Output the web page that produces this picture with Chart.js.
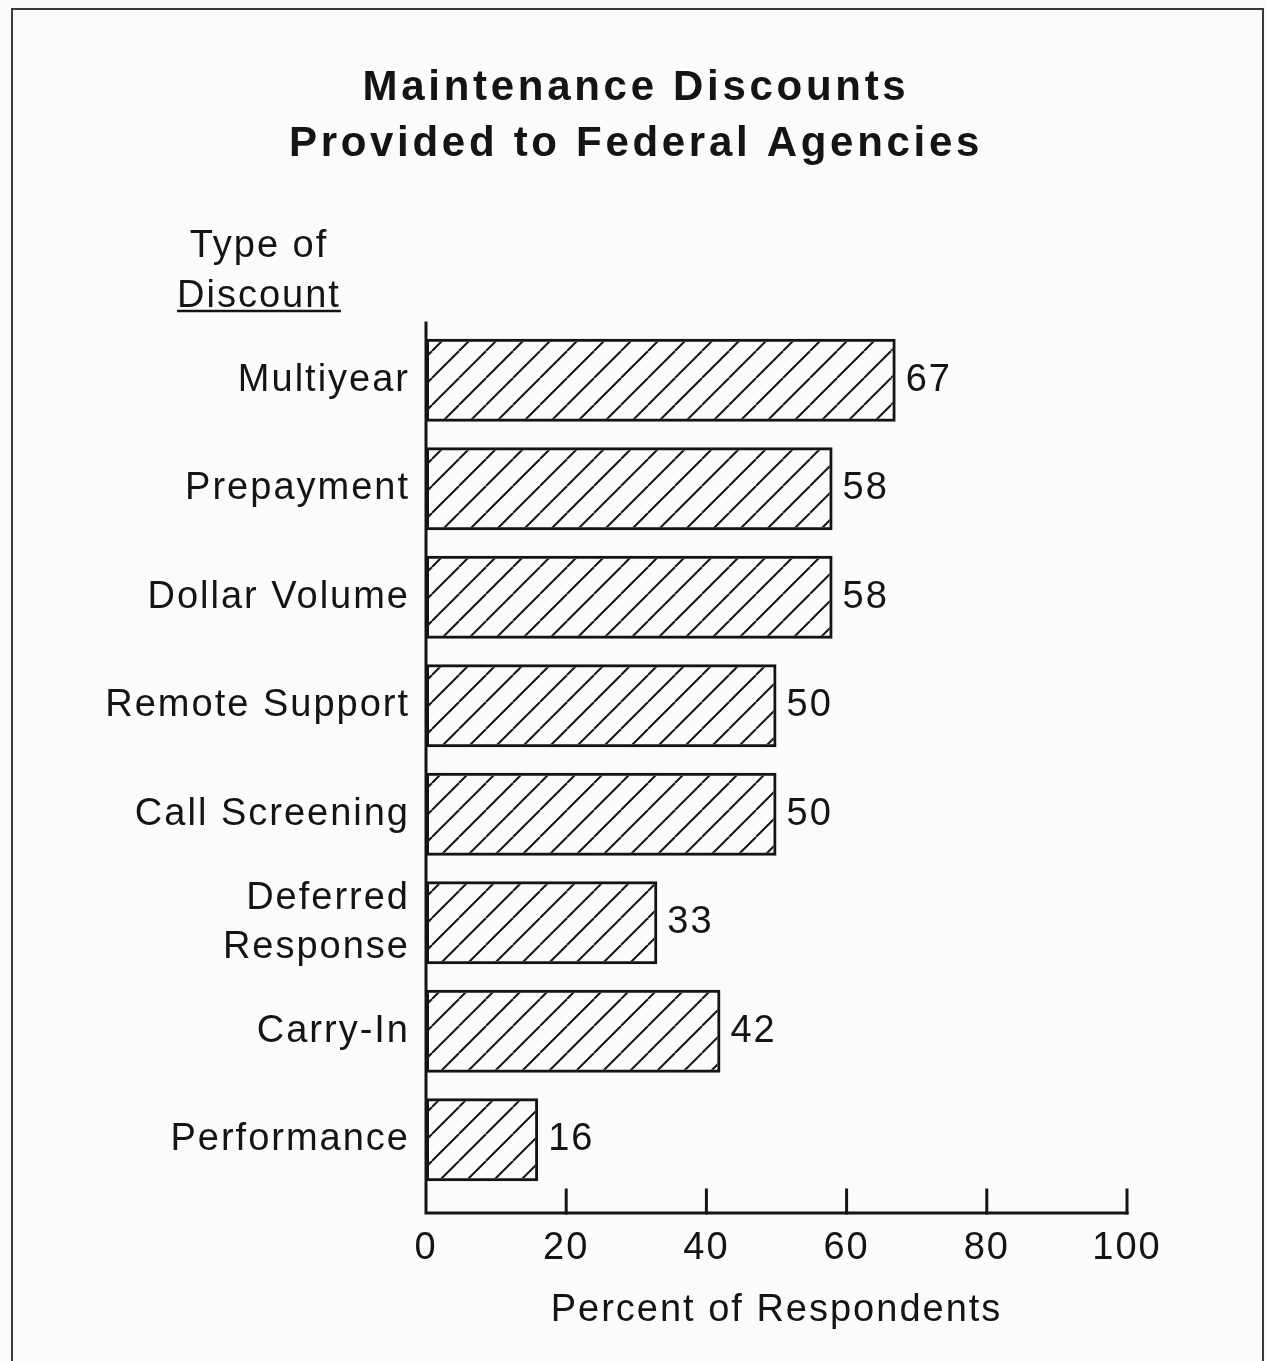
<!DOCTYPE html>
<html>
<head>
<meta charset="utf-8">
<title>Maintenance Discounts Provided to Federal Agencies</title>
<script src="https://cdn.jsdelivr.net/npm/chart.js@4.4.1/dist/chart.umd.min.js"></script>
<style>
	html, body { margin: 0; padding: 0; background: #fbfbfb; }
	canvas { display: block; }
</style>
</head>
<body>
<canvas id="discountChart" width="1267" height="1361"></canvas>
<script>
// chart data
const titleLines = ["Maintenance Discounts", "Provided to Federal Agencies"];
const headerLines = ["Type of", "Discount"];
const categories = [
	"Multiyear",
	"Prepayment",
	"Dollar Volume",
	"Remote Support",
	"Call Screening",
	["Deferred", "Response"],
	"Carry-In",
	"Performance",
];
const percentValues = [67, 58, 58, 50, 50, 33, 42, 16];
const xTickValues = [0, 20, 40, 60, 80, 100];
const xAxisTitle = "Percent of Respondents";

const FONT = "'Liberation Sans', Arial, Helvetica, sans-serif";
const INK = "#141414";

// diagonal hatch used to fill the bars
const makeHatch = (ctx) => {
	const size = 27;
	const tile = document.createElement("canvas");
	tile.width = size;
	tile.height = size;
	const t = tile.getContext("2d");
	t.strokeStyle = INK;
	t.lineWidth = 2;
	for (let k = -1; k <= 1; k++) {
		t.beginPath();
		t.moveTo(k * size, size);
		t.lineTo(k * size + size, 0);
		t.stroke();
	}
	return ctx.createPattern(tile, "repeat");
};

const pageDecor = {
	id: "pageDecor",
	beforeDraw(chart) {
		const { ctx, width, height } = chart;
		ctx.save();
		ctx.fillStyle = "#fbfbfb";
		ctx.fillRect(0, 0, width, height);
		// frame around the figure (open at the bottom)
		ctx.strokeStyle = "#3a3a3a";
		ctx.lineWidth = 2;
		ctx.beginPath();
		ctx.moveTo(12, height + 5);
		ctx.lineTo(12, 9);
		ctx.lineTo(1263, 9);
		ctx.lineTo(1263, height + 5);
		ctx.stroke();

		// main title
		ctx.fillStyle = INK;
		ctx.font = `bold 42px ${FONT}`;
		ctx.letterSpacing = "3.7px";
		ctx.textAlign = "center";
		ctx.textBaseline = "alphabetic";
		ctx.fillText(titleLines[0], 636, 100);
		ctx.fillText(titleLines[1], 636, 156);

		// column header above the category labels
		ctx.font = `38px ${FONT}`;
		ctx.letterSpacing = "2px";
		ctx.fillText(headerLines[0], 259, 257);
		ctx.fillText(headerLines[1], 259, 307);
		const w = ctx.measureText(headerLines[1]).width;
		ctx.lineWidth = 2.5;
		ctx.strokeStyle = INK;
		ctx.beginPath();
		ctx.moveTo(259 - w / 2, 311);
		ctx.lineTo(259 + w / 2, 311);
		ctx.stroke();
		ctx.restore();
		ctx.letterSpacing = "2px";
	},
	afterDatasetsDraw(chart) {
		const { ctx, chartArea, scales } = chart;
		const x = scales.x;
		const x0 = x.getPixelForValue(xTickValues[0]);
		const xEnd = x.getPixelForValue(xTickValues[xTickValues.length - 1]);
		const baseY = chartArea.bottom + 19;

		ctx.save();
		ctx.strokeStyle = INK;
		ctx.lineWidth = 3;
		ctx.lineCap = "square";
		ctx.beginPath();
		ctx.moveTo(x0, chartArea.top - 3);
		ctx.lineTo(x0, baseY);
		ctx.lineTo(xEnd, baseY);
		ctx.stroke();
		xTickValues.slice(1).forEach((v) => {
			const px = x.getPixelForValue(v);
			ctx.beginPath();
			ctx.moveTo(px, baseY);
			ctx.lineTo(px, baseY - 23);
			ctx.stroke();
		});

		// value labels at the end of each bar
		ctx.fillStyle = INK;
		ctx.font = `38px ${FONT}`;
		ctx.letterSpacing = "2px";
		ctx.textAlign = "left";
		ctx.textBaseline = "middle";
		const meta = chart.getDatasetMeta(0);
		meta.data.forEach((bar, i) => {
			ctx.fillText(String(percentValues[i]), bar.x + 10, bar.y);
		});
		ctx.restore();
	},
};

const canvas = document.getElementById("discountChart");
const ctx = canvas.getContext("2d");

new Chart(canvas, {
	type: "bar",
	data: {
		labels: categories,
		datasets: [
			{
				label: "Percent of Respondents",
				data: percentValues,
				backgroundColor: makeHatch(ctx),
				borderColor: INK,
				borderWidth: 3,
				borderSkipped: false,
				barPercentage: 0.765,
				categoryPercentage: 1,
			},
		],
	},
	options: {
		indexAxis: "y",
		responsive: false,
		animation: false,
		devicePixelRatio: 1,
		layout: {
			padding: { top: 326, right: 140, bottom: 0, left: 0 },
		},
		plugins: {
			legend: { display: false },
			title: { display: false },
			tooltip: { enabled: false },
		},
		scales: {
			x: {
				min: 0,
				max: 100,
				afterBuildTicks: (scale) => {
					scale.ticks = xTickValues.map((v) => ({ value: v }));
				},
				afterFit: (scale) => {
					scale.height = 167;
				},
				grid: { display: false, drawTicks: false },
				border: { display: false },
				ticks: {
					color: INK,
					padding: 32,
					maxRotation: 0,
					autoSkip: false,
					font: { family: FONT, size: 38, lineHeight: 1.2 },
				},
				title: {
					display: true,
					text: xAxisTitle,
					color: INK,
					padding: { top: 0, bottom: 28 },
					font: { family: FONT, size: 38, lineHeight: 1.2 },
				},
			},
			y: {
				afterFit: (scale) => {
					scale.width = 426;
				},
				grid: { display: false, drawTicks: false },
				border: { display: false },
				ticks: {
					color: INK,
					padding: 16,
					autoSkip: false,
					font: { family: FONT, size: 38, lineHeight: 1.29 },
				},
			},
		},
	},
	plugins: [pageDecor],
});
</script>
</body>
</html>
